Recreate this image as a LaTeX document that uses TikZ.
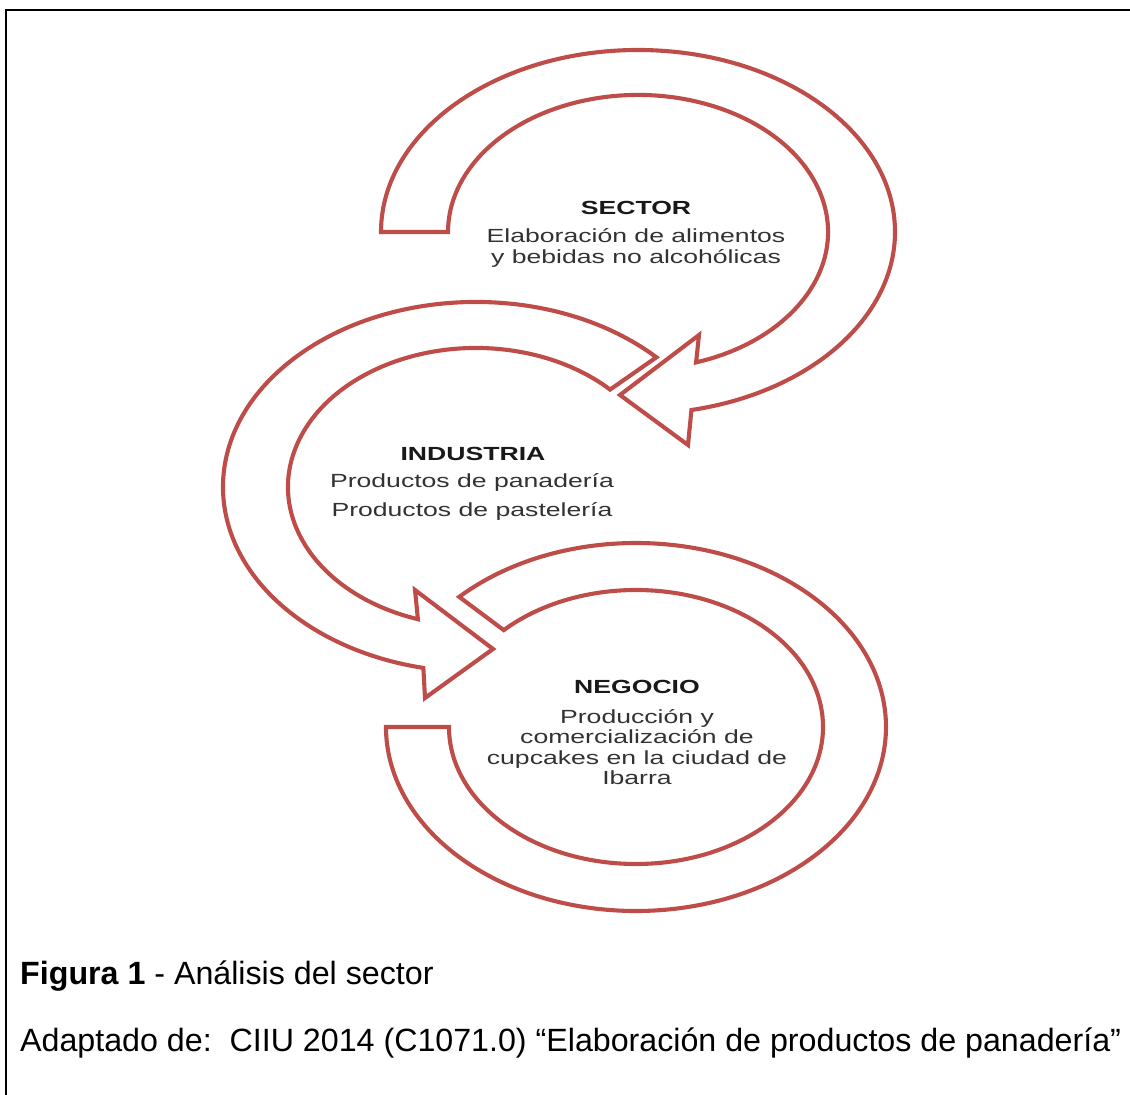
\documentclass[tikz,border=0pt]{standalone}
\usepackage{fontspec}
\setmainfont{Liberation Sans}
\newfontfamily\widesans[FakeStretch=1.4]{Liberation Sans}
\definecolor{ringred}{RGB}{190,76,73}
\definecolor{labelgray}{RGB}{50,50,50}
\begin{document}
\begin{tikzpicture}[x=1pt,y=1pt,
  ring/.style={draw=ringred, line width=4.1pt, fill=white, line join=miter},
  head/.style={font=\widesans\bfseries\fontsize{19}{20}\selectfont, text=black!90, inner sep=0pt},
  body/.style={font=\widesans\fontsize{19}{20.3}\selectfont, text=labelgray, align=center, inner sep=0pt},
  framerule/.style={line width=2.2pt, black},
  caption/.style={font=\fontsize{32.2}{36}\selectfont, anchor=base west, inner sep=0pt}]
\useasboundingbox (0,0) rectangle (1130,1095);

% outer frame (left and top edges)
\draw[framerule] (6,0) -- (6,1085) -- (1130,1085);

% top ring: SECTOR, centre (638,863), arrow ends at lower left
\draw[ring] (381,863)
  arc[start angle=180, end angle=-78, x radius=257pt, y radius=182pt]
  -- (688,650) -- (620,700) -- (699,760)
  -- (696.1,732.6)
  arc[start angle=-72.2, end angle=180, x radius=190pt, y radius=137pt] -- cycle;

% middle ring: INDUSTRIA, centre (476,608), arrow ends at lower right
\draw[ring] (656.4,737.7)
  arc[start angle=44.5, end angle=258, x radius=253pt, y radius=185pt]
  -- (425,397) -- (493,446) -- (415,505)
  -- (417.9,475.8)
  arc[start angle=252, end angle=44.5, x radius=188pt, y radius=139pt] -- cycle;

% bottom ring: NEGOCIO, centre (636,368)
\draw[ring] (459.2,498.1)
  arc[start angle=135, end angle=-180, x radius=250pt, y radius=184pt]
  -- (449,368)
  arc[start angle=-180, end angle=135, x radius=187pt, y radius=137pt] -- cycle;

% labels
\node[head] (sector) at (636,887) {SECTOR};
\node[body] (sectortext) at (636,847) {Elaboración de alimentos\\y bebidas no alcohólicas};

\node[head] (industria) at (473,641) {INDUSTRIA};
\node[body, font=\widesans\fontsize{19}{29}\selectfont] (industriatext) at (472,598) {Productos de panadería\\Productos de pastelería};

\node[head] (negocio) at (637,408) {NEGOCIO};
\node[body] (negociotext) at (637,348) {Producción y\\comercialización de\\cupcakes en la ciudad de\\Ibarra};

% caption
\node[caption] (figcap) at (20,110) {\textbf{Figura 1} - Análisis del sector};
\node[caption] (source) at (20,43) {Adaptado de:\ \ CIIU 2014 (C1071.0) “Elaboración de productos de panadería”};
\end{tikzpicture}
\end{document}
